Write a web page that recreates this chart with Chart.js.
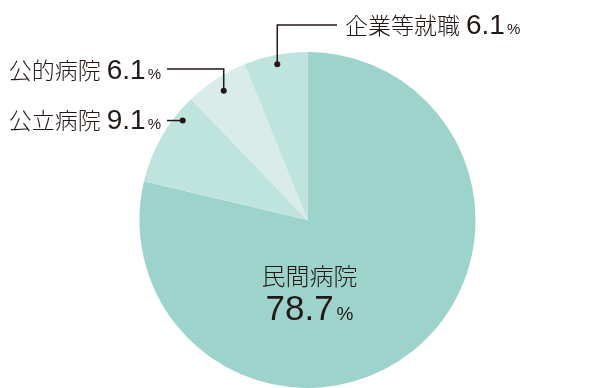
<!DOCTYPE html>
<html>
<head>
<meta charset="utf-8">
<script src="https://cdn.jsdelivr.net/npm/chart.js@4.4.1/dist/chart.umd.min.js"></script>
<style>
    html, body { margin: 0; padding: 0; background: #fff; }
    #wrap { width: 615px; height: 388px; }
</style>
</head>
<body>
<div id="wrap"><canvas id="pie" width="615" height="388"></canvas></div>
<script>
// Chart data
const categories = ['民間病院', '公立病院', '公的病院', '企業等就職'];
const shares = [78.7, 9.1, 6.1, 6.1];
const sliceColors = ['#9cd3cb', '#bfe3dd', '#d8edea', '#bfe3dd'];

const INK = '#231815';
const CJK = '"Noto Sans CJK JP", "Noto Sans", sans-serif';
const NUM = '"Liberation Sans", Arial, sans-serif';

// Leader-line layout for the outside labels (index -> placement)
const outsideLabels = [
    { index: 3, t: 0.5, rf: 0.945, elbowY: 25, endX: 337, textX: 345, baseline: 34, align: 'left' },
    { index: 2, t: 0.5, rf: 0.917, elbowY: 69, endX: 167, textX: 161, baseline: 79, align: 'right' },
    { index: 1, t: 0.77, rf: 0.95, elbowY: null, endX: 167, textX: 161, baseline: 129, align: 'right' }
];

function drawParts(ctx, parts, x, baseline, align) {
    const widths = parts.map(p => { ctx.font = p.font; return ctx.measureText(p.text).width + (p.gap || 0); });
    const total = widths.reduce((a, b) => a + b, 0);
    let cx = align === 'right' ? x - total : align === 'center' ? x - total / 2 : x;
    ctx.textAlign = 'left';
    ctx.textBaseline = 'alphabetic';
    parts.forEach((p, i) => {
        ctx.font = p.font;
        ctx.fillText(p.text, cx + (p.gap || 0), baseline);
        cx += widths[i];
    });
}

const labelPlugin = {
    id: 'pieLabels',
    afterDatasetsDraw(chart) {
        const ctx = chart.ctx;
        const arcs = chart.getDatasetMeta(0).data;
        ctx.save();
        ctx.fillStyle = INK;
        ctx.strokeStyle = INK;
        ctx.lineWidth = 1.5;

        outsideLabels.forEach(l => {
            const arc = arcs[l.index];
            const p = arc.getProps(['x', 'y', 'startAngle', 'endAngle', 'outerRadius'], true);
            const a = p.startAngle + (p.endAngle - p.startAngle) * l.t;
            const dx = p.x + Math.cos(a) * p.outerRadius * l.rf;
            const dy = p.y + Math.sin(a) * p.outerRadius * l.rf;
            const ey = l.elbowY === null ? dy : l.elbowY;

            ctx.beginPath();
            ctx.moveTo(dx, dy);
            ctx.lineTo(dx, ey);
            ctx.lineTo(l.endX, ey);
            ctx.stroke();

            ctx.beginPath();
            ctx.arc(dx, dy, 3, 0, Math.PI * 2);
            ctx.fill();

            drawParts(ctx, [
                { text: categories[l.index], font: `300 23px ${CJK}` },
                { text: shares[l.index].toFixed(1), font: `28px ${NUM}`, gap: 6 },
                { text: '%', font: `15px ${NUM}`, gap: 2 }
            ], l.textX, l.baseline, l.align);
        });

        // inside label for the large slice
        const main = arcs[0].getProps(['x', 'y'], true);
        drawParts(ctx, [{ text: categories[0], font: `300 24px ${CJK}` }], main.x + 2, 285, 'center');
        drawParts(ctx, [
            { text: shares[0].toFixed(1), font: `35px ${NUM}` },
            { text: '%', font: `19px ${NUM}`, gap: 3 }
        ], main.x + 2, 320, 'center');

        ctx.restore();
    }
};

new Chart(document.getElementById('pie'), {
    type: 'pie',
    data: {
        labels: categories,
        datasets: [{
            data: shares,
            backgroundColor: sliceColors,
            borderWidth: 0,
            hoverOffset: 0
        }]
    },
    options: {
        responsive: false,
        animation: false,
        layout: { padding: { top: 52, bottom: 0, left: 0, right: 0 } },
        plugins: {
            legend: { display: false },
            tooltip: { enabled: false }
        }
    },
    plugins: [labelPlugin]
});
</script>
</body>
</html>
